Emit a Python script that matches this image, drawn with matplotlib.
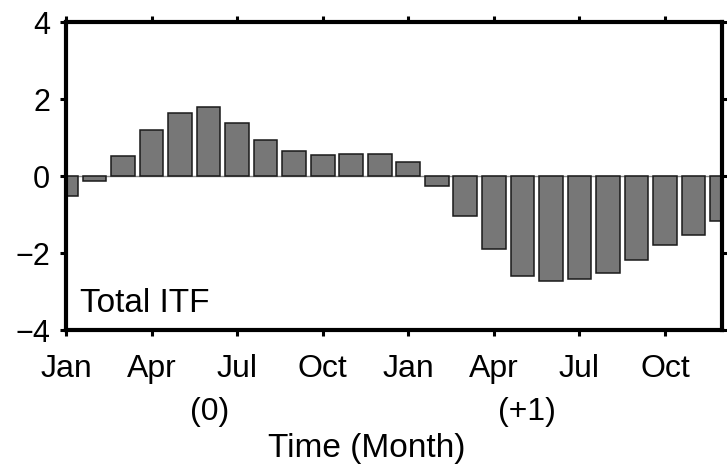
import matplotlib
matplotlib.use("Agg")
import matplotlib.pyplot as plt
import matplotlib.transforms as mtransforms
import numpy as np

plt.rcParams['font.family'] = ['Liberation Sans', 'DejaVu Sans']

# Monthly anomalies of the total ITF transport, Jan(0) .. Dec(+1)
months = np.arange(24)
itf_anomaly = [-0.53, -0.12, 0.52, 1.19, 1.64, 1.80, 1.37, 0.94, 0.65, 0.54, 0.58, 0.56,
               0.36, -0.25, -1.03, -1.90, -2.61, -2.73, -2.68, -2.51, -2.18, -1.80, -1.52, -1.18]
tick_months = [0, 3, 6, 9, 12, 15, 18, 21]
tick_labels = ['Jan', 'Apr', 'Jul', 'Oct', 'Jan', 'Apr', 'Jul', 'Oct']
y_ticks = [-4, -2, 0, 2, 4]
year_tags = [(5.05, '(0)'), (16.15, '(+1)')]

W, H = 727, 465
fig = plt.figure(figsize=(W / 100, H / 100), dpi=100)
ax = fig.add_axes([66 / W, 1 - 330 / H, (722 - 66) / W, (330 - 22) / H])

ax.axhline(0, color='#8a8a8a', lw=1.0, zorder=1)
ax.bar(months, itf_anomaly, width=0.83, color='#777777', edgecolor='#1a1a1a',
       linewidth=1.1, zorder=2)

ax.set_xlim(0, 23)
ax.set_ylim(-4, 4)
ax.set_yticks(y_ticks)
ax.set_yticklabels(['\u22124', '\u22122', '0', '2', '4'])
ax.set_xticks(tick_months)
ax.set_xticklabels(tick_labels)

for s in ax.spines.values():
    s.set_linewidth(3.0)
    s.set_color('black')
    s.set_zorder(5)

ax.tick_params(axis='both', direction='out', length=4.5, width=2.2, color='black')
ax.tick_params(axis='x', top=True, labeltop=False, labelsize=23, pad=13)
ax.tick_params(axis='y', right=True, labelright=False, labelsize=22, pad=7)

ax.text(0.5, -3.52, 'Total ITF', fontsize=24, ha='left', va='baseline')

# year tags and axis title: x in months, y in figure coordinates
blend = mtransforms.blended_transform_factory(ax.transData, fig.transFigure)
for xm, tag in year_tags:
    ax.text(xm, 1 - 412 / H, tag, fontsize=23, ha='center', va='center',
            transform=blend, clip_on=False)
ax.text(10.55, 1 - 457 / H, 'Time (Month)', fontsize=24, ha='center', va='baseline',
        transform=blend, clip_on=False)

fig.savefig('out.png', dpi=100)
